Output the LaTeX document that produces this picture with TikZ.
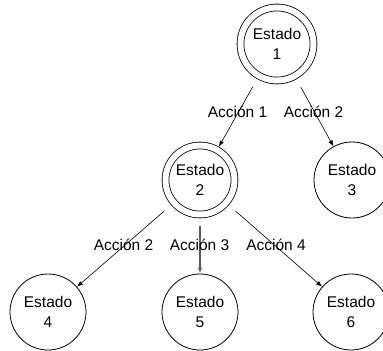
\documentclass[tikz,border=0pt]{standalone}
\usepackage{fontspec}
\setmainfont{Liberation Sans}
\usetikzlibrary{arrows.meta}
\definecolor{flechagris}{RGB}{90,90,90}
\begin{document}
\begin{tikzpicture}[x=1bp,y=-1bp,
  every node/.style={font=\fontsize{15.5bp}{20bp}\selectfont, inner sep=0pt},
  estado/.style={circle, draw, line width=0.8bp, minimum size=76bp, align=center, outer sep=0.4bp},
  final/.style={circle, draw, line width=0.8bp, double, double distance=6bp, align=center, outer sep=3.8bp},
  accion/.style={anchor=base, outer sep=0pt},
  flecha/.style={-{Latex[length=6bp,width=4.5bp]}, line width=0.6bp, shorten <=9bp},
]
\useasboundingbox (0,0) rectangle (383,351);

% estados
\node[final, minimum size=73bp] (e1) at (277,44)  {Estado\\1};
\node[final, minimum size=69bp] (e2) at (200,180) {Estado\\2};
\node[estado] (e3) at (352,180) {Estado\\3};
\node[estado] (e4) at (48,312)  {Estado\\4};
\node[estado] (e5) at (200,312) {Estado\\5};
\node[estado] (e6) at (351,312) {Estado\\6};

% transiciones
\draw[flecha] (e1) -- (e2);
\draw[flecha] (e1) -- (e3);
\draw[flecha] (e2) -- (e4);
\draw[flecha, draw=flechagris, line width=1.3bp, shorten <=8bp] (e2) -- (e5);
\draw[flecha] (e2) -- (e6);

% acciones
\node[accion] (a1) at (237.5,117.6) {Acción 1};
\node[accion] (a2) at (313.5,117.6) {Acción 2};
\node[accion] (a3) at (123.5,250.6) {Acción 2};
\node[accion] (a4) at (199.5,250.6) {Acción 3};
\node[accion] (a5) at (276,250.6)   {Acción 4};
\end{tikzpicture}
\end{document}
